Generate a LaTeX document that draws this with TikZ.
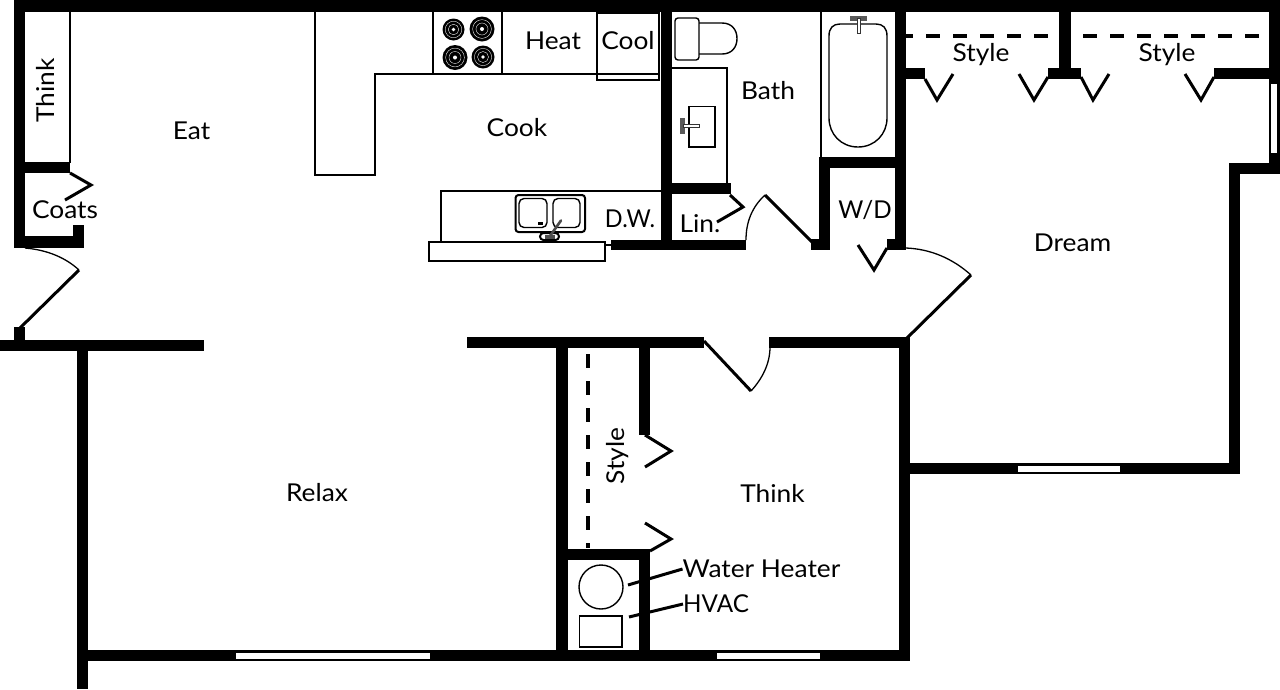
\documentclass[tikz,border=0pt]{standalone}
\usepackage{fontspec}
\setmainfont[FakeStretch=1.07]{Lato}
\newcommand{\WL}[4]{\fill[black] (#1,#2) rectangle (#3,#4);}
\newcommand{\GL}[4]{\fill[white] (#1,#2) rectangle (#3,#4);}
\tikzset{
  lbl/.style={inner sep=0pt,font=\fontsize{24.6}{28}\selectfont,text=black},
  thin line/.style={draw=black,line width=2pt},
  hair/.style={draw=black,line width=1.4pt},
  doorleaf/.style={draw=black,line width=3pt,line join=miter},
  doorarc/.style={draw=black,line width=1.3pt},
  dashline/.style={draw=black,line width=3.2pt,dash pattern=on 14pt off 13pt},
}
\begin{document}
\begin{tikzpicture}[x=1pt,y=-1pt]
\useasboundingbox (0,0) rectangle (1280,689);
\fill[white] (0,0) rectangle (1280,689);
% thin partitions and cabinets
\draw[thin line] (70,12) -- (70,163);
\draw[thin line] (315,12) -- (315,175) -- (375,175) -- (375,74) -- (660,74);
\draw[thin line] (432.5,12) -- (432.5,74);
\draw[thin line] (502,12) -- (502,74);
\draw[hair] (597,74) -- (597,13) -- (659,13) -- (659,80) -- (597,80) -- (597,74);
\draw[thin line] (672,67.5) -- (727,67.5) -- (727,184);
\draw[thin line] (441,241) -- (441,190.5) -- (661,190.5);
\draw[thin line] (429,241.5) rectangle (605,260.5);
\draw[thin line] (605,245) -- (612,245);
\draw[thin line] (821,12) -- (821,158);
% walls
\WL{14}{0}{1280}{12}
\WL{14}{0}{25}{248}
\WL{25}{162}{70}{173}
\WL{14}{236}{84}{248}
\WL{73}{225}{84}{248}
\WL{14}{327}{25}{345}
\WL{0}{340}{204}{351}
\WL{77}{340}{88}{689}
\WL{77}{650}{910}{661}
\WL{661}{0}{672}{250}
\WL{672}{183}{731}{194}
\WL{611}{240}{746}{250}
\WL{811}{239}{830}{250}
\WL{819}{157}{830}{250}
\WL{819}{157}{906}{168}
\WL{895}{0}{906}{250}
\WL{887}{239}{906}{250}
\WL{467}{337}{704}{348}
\WL{769}{337}{910}{348}
\WL{899}{337}{910}{661}
\WL{899}{463}{1240}{474}
\WL{1229}{163}{1240}{474}
\WL{1229}{163}{1280}{174}
\WL{1269}{0}{1280}{174}
\WL{906}{68}{925}{79}
\WL{1059}{0}{1071}{79}
\WL{1048}{68}{1081}{79}
\WL{1214}{68}{1269}{79}
\WL{556}{348}{568}{661}
\WL{639}{348}{650}{435}
\WL{568}{549}{650}{560}
\WL{639}{549}{650}{661}
% windows
\GL{1018}{466}{1120}{471.5}
\GL{1271}{84}{1277}{153}
\GL{236}{653}{430}{658.5}
\GL{717}{653}{820}{658.5}
% doors
\draw[doorleaf] (70,173) -- (91,185) -- (65,200);
\draw[doorarc] (25,248) .. controls (48,250) and (66,258) .. (79,270);
\draw[doorleaf] (79,270) -- (20,328);
\draw[doorleaf] (730,195) -- (743,207) -- (717,222);
\draw[doorleaf] (812,242) -- (765,195);
\draw[doorarc] (765,195) .. controls (752,207) and (746,222) .. (746,240);
\draw[doorleaf] (858,245) -- (874,270) -- (887,248);
\draw[doorarc] (906,248) .. controls (930,249) and (952,258) .. (971,275);
\draw[doorleaf] (971,275) -- (906,339);
\draw[doorleaf] (925,79) -- (937,100) -- (953,74);
\draw[doorleaf] (1019,74) -- (1034,100) -- (1048,77);
\draw[doorleaf] (1081,77) -- (1093,100) -- (1109,74);
\draw[doorleaf] (1185,74) -- (1201,100) -- (1214,77);
\draw[doorleaf] (645,435) -- (671,451) -- (645,467);
\draw[doorleaf] (645,523) -- (671,539) -- (650,551);
\draw[doorleaf] (704,341) -- (751,391);
\draw[doorarc] (751,391) .. controls (762,379) and (770,364) .. (770,347);
% closet rods
\draw[dashline,dash phase=7pt] (906,36) -- (1059,36);
\draw[dashline,dash phase=-12pt] (1071,36) -- (1269,36);
\draw[dashline] (588,354) -- (588,548);
% range
\foreach \cx/\cy/\r in {453.5/29.5/11,482/29/12.5,455/57.5/12.5,483/57/11.5}{
  \fill[black] (\cx,\cy) circle[radius=\r pt];
  \draw[white,line width=.35pt] (\cx,\cy) circle[radius=.75*\r pt];
  \draw[white,line width=.35pt] (\cx,\cy) circle[radius=.48*\r pt];
  \fill[white] (\cx,\cy) circle[radius=.16*\r pt];
}
% toilet
\draw[hair,rounded corners=3pt] (675,18) rectangle (699,60);
\draw[hair] (699,23) -- (722,23) .. controls (732,23) and (737,30) .. (737,38.5) .. controls (737,47) and (732,54) .. (722,54) -- (699,54);
% bath sink
\draw[hair] (689,106.5) rectangle (715,147);
\fill[black!65] (680,118) rectangle (685,134);
\draw[draw=black!80,fill=white,line width=.6pt] (683,124) rectangle (699,127.5);
% tub
\draw[hair] (829,36) .. controls (829,28) and (833,24) .. (840,24) -- (876,24) .. controls (883,24) and (887,28) .. (887,36) -- (887,118) .. controls (887,134) and (875,147) .. (858,147) .. controls (841,147) and (829,134) .. (829,118) -- cycle;
\fill[black!65] (850,16) rectangle (867,21);
\draw[draw=black!80,fill=white,line width=.6pt] (857,18) rectangle (860.5,33);
% kitchen sink
\draw[thin line,rounded corners=3pt] (515.5,195) rectangle (585,232);
\draw[hair,rounded corners=5pt] (519,198.5) rectangle (547,227.5);
\draw[hair,rounded corners=5pt] (553,198.5) rectangle (580,227.5);
\fill[black] (538,222) rectangle (543,225);
\draw[thin line,rounded corners=3.5pt,fill=white] (540,233) rectangle (559,240);
\fill[black!70] (545,234.5) rectangle (555,238.5);
\draw[draw=black!70,line width=2.6pt,line cap=round] (550,236) -- (561,220.5);
% mechanical
\draw[hair] (601,587) circle[radius=22pt];
\draw[hair] (579.5,616) rectangle (622,647);
% labels
\node[lbl] (eat) at (191.5,130.5) {Eat};
\node[lbl] (cook) at (517,127.5) {Cook};
\node[lbl] (heat) at (553,40.5) {Heat};
\node[lbl] (cool) at (628,40.5) {Cool};
\node[lbl] (bath) at (768,91) {Bath};
\node[lbl] (style1) at (981,54.5) {Style};
\node[lbl] (style2) at (1167,54.5) {Style};
\node[lbl,rotate=90] (think1) at (45.5,90.5) {Think};
\node[lbl] (coats) at (65,209.5) {Coats};
\node[lbl] (dw) at (630,219) {\scalebox{.89}[1]{D.W.}};
\node[lbl] (lin) at (700,223.5) {Lin.};
\node[lbl] (wd) at (865,209.5) {\scalebox{.92}[1]{W/D}};
\node[lbl] (dream) at (1072.5,242.5) {Dream};
\node[lbl] (relax) at (317,492.5) {Relax};
\node[lbl] (think2) at (772.5,493.5) {Think};
\node[lbl,rotate=90] (style3) at (617.5,456) {Style};
\node[lbl,anchor=west] (wh) at (682.5,569) {Water Heater};
\node[lbl,anchor=west] (hv) at (683,604) {\scalebox{.92}[1]{HVAC}};
% leaders
\coordinate (whend) at (628,585);
\coordinate (hvend) at (629,617);
\draw[draw=black,line width=3pt] (whend) -- (wh.west);
\draw[draw=black,line width=3pt] (hvend) -- (hv.west);
\end{tikzpicture}
\end{document}
